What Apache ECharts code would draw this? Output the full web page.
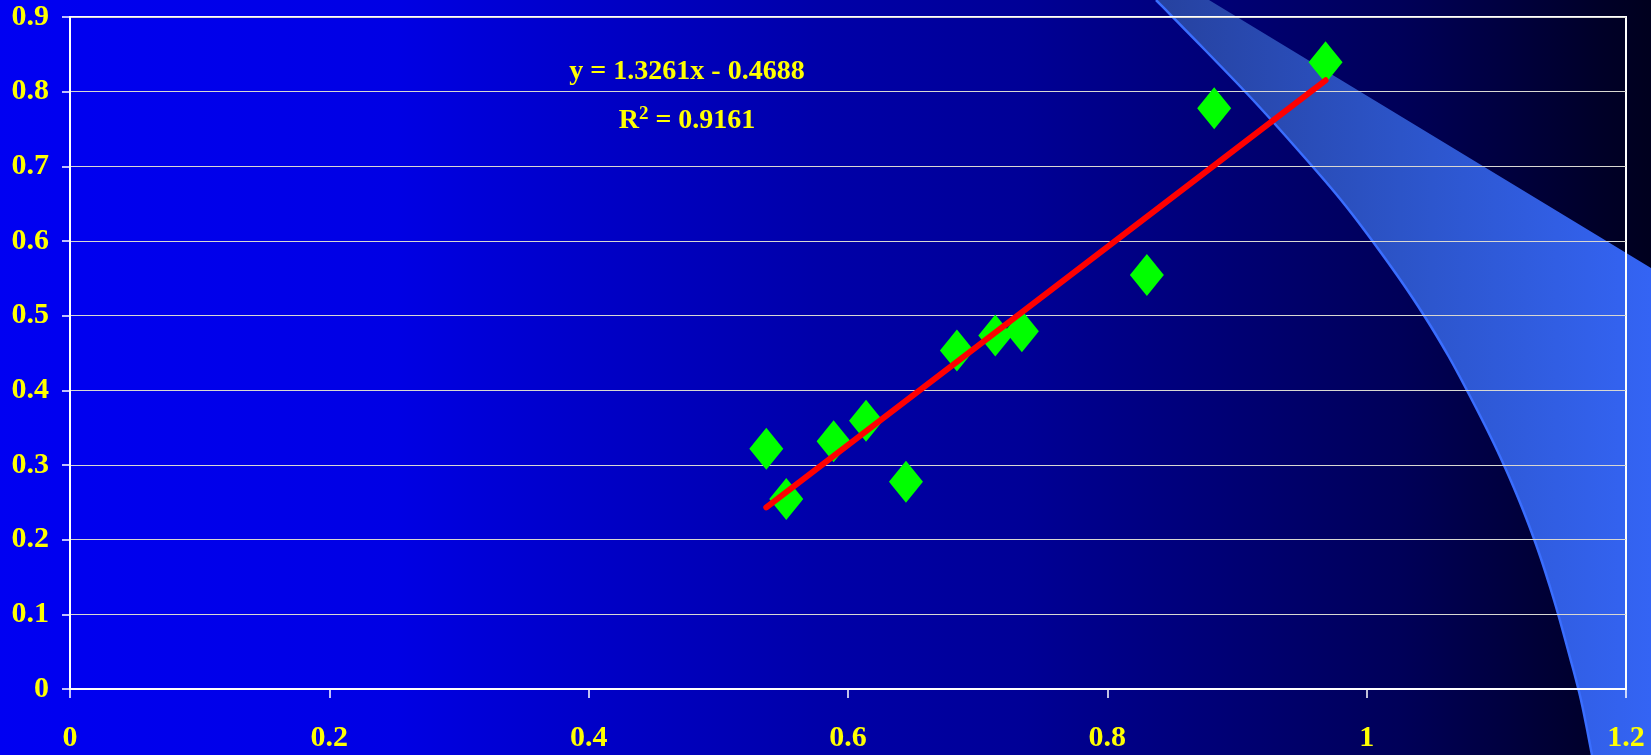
<!DOCTYPE html>
<html>
<head>
<meta charset="utf-8">
<title>Trend</title>
<script src="https://cdn.jsdelivr.net/npm/echarts/dist/echarts.min.js"></script>
<style>
  html, body { margin: 0; padding: 0; background: #000030; }
  #chart { width: 1651px; height: 755px; }
</style>
</head>
<body>
<div id="chart"></div>
<script>
// Observed pairs
const xValues = [0.537, 0.5524, 0.5889, 0.6139, 0.6447, 0.684, 0.7136, 0.7341, 0.8305, 0.8824, 0.9683];
const yValues = [0.3217, 0.2544, 0.3317, 0.3592, 0.2775, 0.4535, 0.4736, 0.479, 0.5546, 0.7778, 0.8394];

// Linear fit as printed on the chart
const slope = 1.3261;
const intercept = -0.4688;
const rSquared = 0.9161;

// Axis ranges
const xAxisRange = [0, 1.2, 0.2];
const yAxisRange = [0, 0.9, 0.1];

const FONT = '"Liberation Serif", "Times New Roman", serif';
const YELLOW = '#FFFF00';

const points = xValues.map((x, i) => [x, yValues[i]]);
const xLo = Math.min(...xValues);
const xHi = Math.max(...xValues);
const fitLine = [[xLo, slope * xLo + intercept], [xHi, slope * xHi + intercept]];

// Decorative swoosh in the backdrop (pixel outline of the template band)
const swooshEdge = [
  [1156, 0], [1205, 50], [1253, 100], [1298, 150], [1341, 200], [1379, 250],
  [1414, 300], [1445, 350], [1472, 400], [1497, 450], [1519, 500],
  [1538, 550], [1554, 600], [1568, 650], [1581, 700], [1592, 755]
];
const swooshTop = [[1651, 268], [1209, 0]];

function catmull(pts, steps) {
  const out = [];
  for (let i = 0; i < pts.length - 1; i++) {
    const p0 = pts[Math.max(0, i - 1)], p1 = pts[i], p2 = pts[i + 1], p3 = pts[Math.min(pts.length - 1, i + 2)];
    for (let s = 0; s < steps; s++) {
      const t = s / steps, t2 = t * t, t3 = t2 * t;
      const f = (a, b, c, d) => 0.5 * ((2 * b) + (-a + c) * t + (2 * a - 5 * b + 4 * c - d) * t2 + (-a + 3 * b - 3 * c + d) * t3);
      out.push([f(p0[0], p1[0], p2[0], p3[0]), f(p0[1], p1[1], p2[1], p3[1])]);
    }
  }
  out.push(pts[pts.length - 1]);
  return out;
}
const edgeSmooth = catmull(swooshEdge, 8);
const swooshPoly = edgeSmooth.concat([[1651, 755]], swooshTop);

const chart = echarts.init(document.getElementById('chart'), null, { renderer: 'canvas' });

chart.setOption({
  animation: false,
  backgroundColor: {
    type: 'linear', x: 0, y: 0, x2: 1, y2: 0,
    colorStops: [
      { offset: 0, color: '#0000F2' },
      { offset: 0.24, color: '#0000E4' },
      { offset: 0.33, color: '#0000CE' },
      { offset: 0.5, color: '#0000A8' },
      { offset: 0.62, color: '#000096' },
      { offset: 0.67, color: '#000088' },
      { offset: 0.85, color: '#000058' },
      { offset: 0.97, color: '#000028' },
      { offset: 1, color: '#00001E' }
    ]
  },
  graphic: [
    {
      type: 'polygon',
      z: -10,
      silent: true,
      shape: { points: swooshPoly },
      style: {
        fill: {
          type: 'linear', x: 1150, y: 0, x2: 1651, y2: 0, global: true,
          colorStops: [
            { offset: 0, color: '#26419E' },
            { offset: 0.5, color: '#2C54C8' },
            { offset: 1, color: '#3464F4' }
          ]
        }
      }
    },
    {
      type: 'polyline',
      z: -9,
      silent: true,
      shape: { points: edgeSmooth },
      style: { stroke: '#3A6EFF', lineWidth: 2.5, fill: null }
    },
    {
      type: 'text',
      z: 10,
      style: {
        x: 687, y: 72,
        text: 'y = ' + slope.toFixed(4) + 'x - ' + Math.abs(intercept).toFixed(4),
        font: 'bold 28px ' + FONT,
        fill: YELLOW,
        textAlign: 'center',
        textVerticalAlign: 'middle'
      }
    },
    {
      type: 'text',
      z: 10,
      style: {
        x: 687, y: 121,
        text: 'R{sup|2} = ' + rSquared.toFixed(4),
        font: 'bold 28px ' + FONT,
        fill: YELLOW,
        textAlign: 'center',
        textVerticalAlign: 'middle',
        rich: {
          sup: {
            font: 'bold 19px ' + FONT,
            fill: YELLOW,
            verticalAlign: 'top',
            padding: [0, 0, 14, 0]
          }
        }
      }
    }
  ],
  grid: {
    left: 70, right: 25, top: 17, bottom: 66,
    show: true,
    borderColor: '#FFFFFF',
    borderWidth: 2,
    backgroundColor: 'transparent'
  },
  xAxis: {
    type: 'value',
    min: xAxisRange[0], max: xAxisRange[1], interval: xAxisRange[2],
    axisLine: { show: true, onZero: false, lineStyle: { color: '#FFFFFF', width: 2 } },
    axisTick: { show: true, inside: false, length: 9, lineStyle: { color: '#FFFFFF', width: 1.5 } },
    splitLine: { show: false },
    axisLabel: {
      color: YELLOW, fontFamily: FONT, fontWeight: 'bold', fontSize: 30, margin: 34,
      formatter: v => String(+v.toFixed(1))
    }
  },
  yAxis: {
    type: 'value',
    min: yAxisRange[0], max: yAxisRange[1], interval: yAxisRange[2],
    axisLine: { show: true, lineStyle: { color: '#FFFFFF', width: 2 } },
    axisTick: { show: true, inside: false, length: 8, lineStyle: { color: '#FFFFFF', width: 1.5 } },
    splitLine: { show: true, lineStyle: { color: '#D8D8D2', width: 1 } },
    axisLabel: {
      color: YELLOW, fontFamily: FONT, fontWeight: 'bold', fontSize: 30, margin: 21,
      formatter: v => String(+v.toFixed(1))
    }
  },
  series: [
    {
      type: 'scatter',
      data: points,
      symbol: 'diamond',
      symbolSize: [34, 42],
      itemStyle: { color: '#00FF00', opacity: 1 },
      z: 3
    },
    {
      type: 'line',
      data: fitLine,
      showSymbol: false,
      symbol: 'none',
      lineStyle: { color: '#FF0000', width: 6, cap: 'round' },
      z: 5
    }
  ]
});
</script>
</body>
</html>
